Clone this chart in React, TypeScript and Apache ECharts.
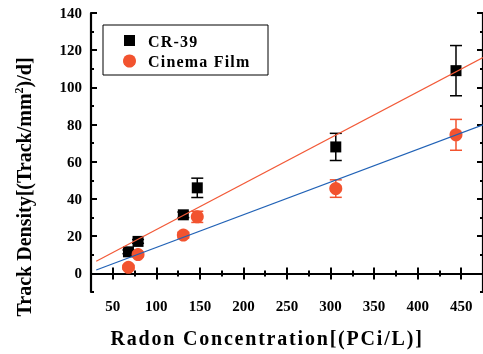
import React, { useEffect, useRef } from "react";
import * as echarts from "echarts";

const radon = [68, 79, 131, 147, 306, 444];
const cr39 = [11.6, 17.2, 31.5, 46, 68, 109];
const cr39Err = [1, 1, 1.5, 5.2, 7.3, 13.5];
const film = [3.3, 10.1, 20.6, 30.4, 45.6, 74.5];
const filmErr = [1, 1, 1.5, 3, 4.7, 8.3];
const cr39Fit = [[31, 6.5], [475, 116]];
const filmFit = [[31, 1.8], [475, 79.9]];

const xMajor = [50, 100, 150, 200, 250, 300, 350, 400, 450];
const xMinor = [25, 75, 125, 175, 225, 275, 325, 375, 425, 475];
const yMajor = [0, 20, 40, 60, 80, 100, 120, 140];
const yMinor = [-10, 10, 30, 50, 70, 90, 110, 130];

const RED = "#f2532f";
const RED_LINE = "#f25a38";
const BLUE = "#2162b6";
const FONT = "'Liberation Serif', 'Times New Roman', serif";

function errSeries(name: string, vals: number[], errs: number[], color: string) {
  return {
    type: "custom",
    name,
    z: 2,
    data: radon.map((x, i) => [x, vals[i], vals[i] - errs[i], vals[i] + errs[i]]),
    encode: { x: 0, y: [2, 3] },
    renderItem: (_p: any, api: any) => {
      const x = api.value(0);
      const lo = api.coord([x, api.value(2)]);
      const hi = api.coord([x, api.value(3)]);
      const w = 6;
      const st = { stroke: color, lineWidth: 1.5 };
      return {
        type: "group",
        children: [
          { type: "line", shape: { x1: hi[0], y1: hi[1], x2: lo[0], y2: lo[1] }, style: st },
          { type: "line", shape: { x1: hi[0] - w, y1: hi[1], x2: hi[0] + w, y2: hi[1] }, style: st },
          { type: "line", shape: { x1: lo[0] - w, y1: lo[1], x2: lo[0] + w, y2: lo[1] }, style: st },
        ],
      };
    },
  };
}

export default function App() {
  const ref = useRef<HTMLDivElement>(null);
  useEffect(() => {
    const chart = echarts.init(ref.current!, null, { renderer: "svg" });
    const axLine = { show: true, lineStyle: { color: "#000", width: 2.2 } };
    const labelStyle = { color: "#000", fontFamily: FONT, fontWeight: "bold", fontSize: 15 };
    const mkX = (pos: string, major: boolean, line: boolean, label: boolean) => ({
      type: "value",
      position: pos,
      min: 25,
      max: 475,
      axisLine: line ? axLine : { show: false },
      axisTick: {
        show: true,
        inside: true,
        length: major ? 6 : 3,
        lineStyle: { color: "#000", width: 2 },
        customValues: major ? xMajor : xMinor,
      },
      axisLabel: label
        ? { show: true, customValues: xMajor, margin: 6, ...labelStyle }
        : { show: false },
      splitLine: { show: false },
    });
    const mkY = (pos: string, major: boolean, line: boolean, label: boolean) => ({
      type: "value",
      position: pos,
      min: -10,
      max: 140,
      axisLine: line ? axLine : { show: false },
      axisTick: {
        show: true,
        inside: true,
        length: major ? 6 : 3,
        lineStyle: { color: "#000", width: 2 },
        customValues: major ? yMajor : yMinor,
      },
      axisLabel: label
        ? { show: true, customValues: yMajor, margin: 9, ...labelStyle }
        : { show: false },
      splitLine: { show: false },
    });
    chart.setOption({
      animation: false,
      grid: { left: 91, top: 13, right: -5, bottom: 62, containLabel: false },
      xAxis: [
        mkX("bottom", true, true, true),
        mkX("bottom", false, false, false),
        mkX("top", true, true, false),
        mkX("top", false, false, false),
      ],
      yAxis: [
        mkY("left", true, true, true),
        mkY("left", false, false, false),
        mkY("right", true, true, false),
        mkY("right", false, false, false),
      ],
      series: [
        errSeries("CR-39 err", cr39, cr39Err, "#000"),
        errSeries("Film err", film, filmErr, RED),
        {
          type: "scatter",
          name: "CR-39",
          symbol: "rect",
          symbolSize: 11,
          z: 3,
          itemStyle: { color: "#000", opacity: 1 },
          data: radon.map((x, i) => [x, cr39[i]]),
        },
        {
          type: "scatter",
          name: "Cinema Film",
          symbol: "circle",
          symbolSize: 13,
          z: 3,
          itemStyle: { color: RED, opacity: 1 },
          data: radon.map((x, i) => [x, film[i]]),
        },
        {
          type: "line",
          name: "CR-39 fit",
          showSymbol: false,
          z: 4,
          lineStyle: { color: RED_LINE, width: 1.2 },
          data: cr39Fit,
        },
        {
          type: "line",
          name: "Film fit",
          showSymbol: false,
          z: 4,
          lineStyle: { color: BLUE, width: 1.2 },
          data: filmFit,
        },
      ],
      graphic: [
        {
          type: "rect",
          shape: { x: 103, y: 25, width: 165, height: 50 },
          style: { fill: "#fff", stroke: "#000", lineWidth: 1 },
          z: 10,
        },
        {
          type: "rect",
          shape: { x: 124, y: 35, width: 11, height: 11 },
          style: { fill: "#000" },
          z: 11,
        },
        {
          type: "circle",
          shape: { cx: 129.5, cy: 61, r: 6.5 },
          style: { fill: RED },
          z: 11,
        },
        {
          type: "text",
          x: 148,
          y: 41,
          z: 11,
          style: { text: "CR-39", fill: "#000", font: `bold 16px ${FONT}`, verticalAlign: "middle", align: "left" },
        },
        {
          type: "text",
          x: 148,
          y: 61,
          z: 11,
          style: { text: "Cinema Film", fill: "#000", font: `bold 16px ${FONT}`, verticalAlign: "middle", align: "left" },
        },
        {
          type: "text",
          x: 267,
          y: 338,
          style: {
            text: "Radon Concentration[(PCi/L)]",
            fill: "#000",
            font: `bold 20px ${FONT}`,
            align: "center",
            verticalAlign: "middle",
          },
        },
        {
          type: "text",
          x: 24,
          y: 187,
          rotation: Math.PI / 2,
          style: {
            text: "Track Density[(Track/mm{sup|2})/d]",
            fill: "#000",
            font: `bold 20px ${FONT}`,
            align: "center",
            verticalAlign: "middle",
            rich: {
              sup: { font: `bold 12px ${FONT}`, verticalAlign: "top", padding: [0, 0, 10, 0] },
            },
          },
        },
      ],
    });
    const svg = ref.current!.querySelector("svg");
    if (svg) {
      svg.querySelectorAll("text").forEach((t) => {
        const s = t.textContent || "";
        if (s === "Radon Concentration[(PCi/L)]") t.setAttribute("letter-spacing", "1.8");
        if (s === "CR-39" || s === "Cinema Film") t.setAttribute("letter-spacing", "1.2");
      });
    }
    return () => chart.dispose();
  }, []);
  return (
    <div
      ref={ref}
      style={{ position: "fixed", left: 0, top: 0, width: 483, height: 354 }}
    />
  );
}
